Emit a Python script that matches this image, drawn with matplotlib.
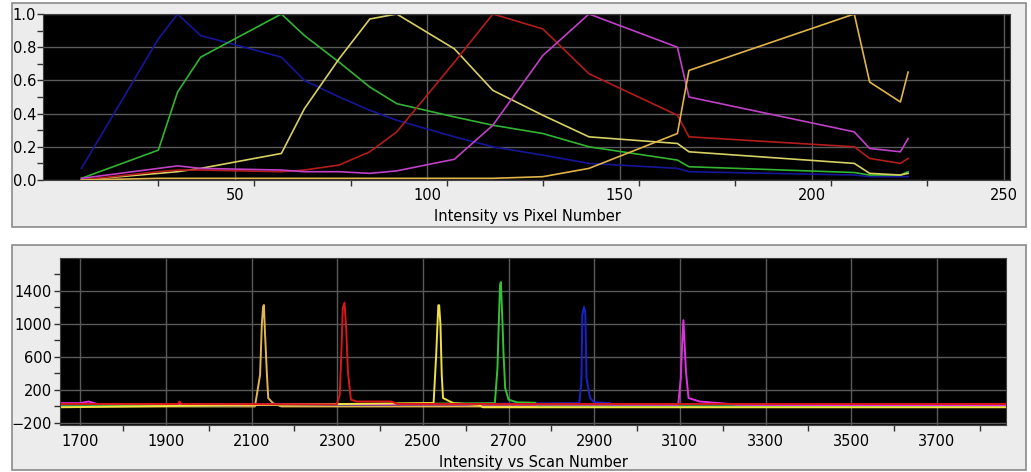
import matplotlib
matplotlib.use('Agg')
import matplotlib.pyplot as plt
from matplotlib.patches import Rectangle
from matplotlib.ticker import FixedLocator

plt.rcParams['font.family'] = ['DejaVu Sans']

# Normalised dye spectra sampled on the detector pixels
pixels = [10, 30, 35, 41, 62, 68, 77, 85, 92, 107, 117, 130, 142, 165, 168, 211, 215, 223, 225]
spec_blue = [0.07, 0.85, 1.0, 0.87, 0.74, 0.60, 0.50, 0.42, 0.36, 0.26, 0.20, 0.15, 0.10,
             0.07, 0.05, 0.03, 0.02, 0.02, 0.02]
spec_green = [0.01, 0.18, 0.53, 0.74, 1.0, 0.87, 0.71, 0.56, 0.46, 0.38, 0.33, 0.28, 0.20,
              0.12, 0.08, 0.045, 0.03, 0.03, 0.05]
spec_yellow = [0.0, 0.04, 0.05, 0.07, 0.16, 0.43, 0.73, 0.97, 1.0, 0.79, 0.54, 0.39, 0.26,
               0.22, 0.17, 0.10, 0.04, 0.03, 0.04]
spec_red = [0.0, 0.05, 0.06, 0.06, 0.05, 0.06, 0.09, 0.17, 0.29, 0.71, 1.0, 0.91, 0.64,
            0.39, 0.26, 0.20, 0.13, 0.10, 0.13]
spec_magenta = [0.01, 0.07, 0.085, 0.07, 0.06, 0.05, 0.05, 0.04, 0.055, 0.125, 0.33, 0.75, 1.0,
                0.80, 0.50, 0.29, 0.19, 0.17, 0.25]
spec_gold = [0.0, 0.01, 0.01, 0.01, 0.01, 0.01, 0.01, 0.01, 0.01, 0.01, 0.01, 0.02, 0.07,
             0.28, 0.66, 1.0, 0.59, 0.47, 0.65]

# Raw traces vs scan number
scan_gold = [1653, 2108, 2120, 2124, 2127, 2129, 2131, 2136, 2139, 2150, 2159, 2170, 3861]
int_gold = [0, 0, 383, 986, 1210, 1230, 946, 383, 102, 40, 20, 0, 0]
scan_red = [1653, 1928, 1932, 1936, 2299, 2306, 2309, 2313, 2317, 2321, 2325, 2332, 2345,
            2427, 2440, 3861]
int_red = [30, 30, 60, 30, 25, 142, 544, 1187, 1260, 946, 423, 82, 60, 60, 30, 30]
scan_yellow = [1653, 2525, 2531, 2534, 2536, 2538, 2541, 2544, 2547, 2571, 2630, 2640, 3861]
int_yellow = [-10, 42, 624, 986, 1227, 1227, 986, 383, 102, 40, 20, -10, -10]
scan_green = [1653, 2668, 2674, 2677, 2680, 2682, 2686, 2688, 2692, 2700, 2720, 2762, 2770, 3861]
int_green = [0, 40, 463, 986, 1469, 1509, 986, 664, 223, 82, 50, 45, 0, 0]
scan_blue = [1653, 2865, 2870, 2872, 2876, 2879, 2882, 2890, 2900, 2937, 2945, 3861]
int_blue = [0, 40, 302, 1107, 1207, 1147, 343, 102, 50, 40, 0, 0]
scan_magenta = [1653, 1700, 1720, 1740, 3096, 3102, 3105, 3108, 3111, 3114, 3120, 3146, 3239, 3861]
int_magenta = [40, 40, 60, 30, 21, 343, 745, 1046, 745, 423, 102, 60, 20, 10]

W, H = 1031, 472


def box(left, top, right, bottom):
    # pixel box (top-left origin) -> figure coordinates
    return [left / W, 1 - bottom / H, (right - left) / W, (bottom - top) / H]


def style_axes(ax):
    ax.set_facecolor('black')
    ax.grid(True, which='major', color='#5a5a5a', linewidth=1.0)
    ax.set_axisbelow(True)
    for s in ax.spines.values():
        s.set_color('#404040')
    ax.tick_params(which='major', labelsize=10.5, colors='black')
    ax.tick_params(axis='x', which='major', length=0)
    ax.tick_params(axis='y', which='major', length=4, width=1, color='#303030')
    ax.tick_params(which='minor', length=4, width=1, color='#303030', direction='out')


fig = plt.figure(figsize=(W / 100, H / 100), dpi=100)
fig.patch.set_facecolor('white')

for top, bottom in [(3, 227), (245, 470)]:
    fig.patches.append(Rectangle((12 / W, 1 - bottom / H), 1014 / W, (bottom - top) / H,
                                 transform=fig.transFigure, facecolor='#ececec',
                                 edgecolor='#8a8a8a', linewidth=1.2, zorder=-5))

# Spectral profile panel
ax1 = fig.add_axes(box(43, 14, 1010, 180))
style_axes(ax1)
spectra = [(spec_blue, '#16169a'), (spec_green, '#32b432'), (spec_yellow, '#d8d064'),
           (spec_red, '#b41c1c'), (spec_magenta, '#c040c8'), (spec_gold, '#e0b448')]
for values, color in spectra:
    ax1.plot(pixels, values, color=color, linewidth=1.2)
ax1.set_xlim(0, 251.5)
ax1.set_ylim(0, 1.0)
ax1.set_xticks([50, 100, 150, 200, 250])
ax1.xaxis.set_minor_locator(FixedLocator([30, 55, 80, 105, 130, 155, 180, 205, 230]))
ax1.set_yticks([0.0, 0.2, 0.4, 0.6, 0.8, 1.0])
ax1.set_yticklabels(['0.0', '0.2', '0.4', '0.6', '0.8', '1.0'])
ax1.yaxis.set_minor_locator(FixedLocator([0.1, 0.3, 0.5, 0.7, 0.9]))
ax1.tick_params(axis='x', which='major', pad=6)
ax1.tick_params(axis='y', which='major', pad=1)
fig.text(527 / W, 1 - 216 / H, 'Intensity vs Pixel Number', ha='center', va='center', fontsize=10.5)

# Raw scan panel
ax2 = fig.add_axes(box(60, 258, 1006, 425))
style_axes(ax2)
traces = [(scan_gold, int_gold, '#e2b64e'), (scan_blue, int_blue, '#1a22c8'),
          (scan_green, int_green, '#34c234'), (scan_magenta, int_magenta, '#e030e0'),
          (scan_yellow, int_yellow, '#f0e040'), (scan_red, int_red, '#d81818')]
for scans, values, color in traces:
    ax2.plot(scans, values, color=color, linewidth=1.4)
ax2.set_xlim(1653, 3861)
ax2.set_ylim(-225, 1800)
ax2.set_xticks(range(1700, 3800, 200))
ax2.xaxis.set_minor_locator(FixedLocator(range(1800, 3900, 200)))
ax2.set_yticks([-200, 200, 600, 1000, 1400])
ax2.yaxis.set_minor_locator(FixedLocator([0, 400, 800, 1200, 1600]))
ax2.tick_params(axis='x', which='major', pad=6.5)
ax2.tick_params(axis='y', which='major', pad=2)
fig.text(533 / W, 1 - 462 / H, 'Intensity vs Scan Number', ha='center', va='center', fontsize=10.5)

fig.savefig('out.png', dpi=100, facecolor='white')
